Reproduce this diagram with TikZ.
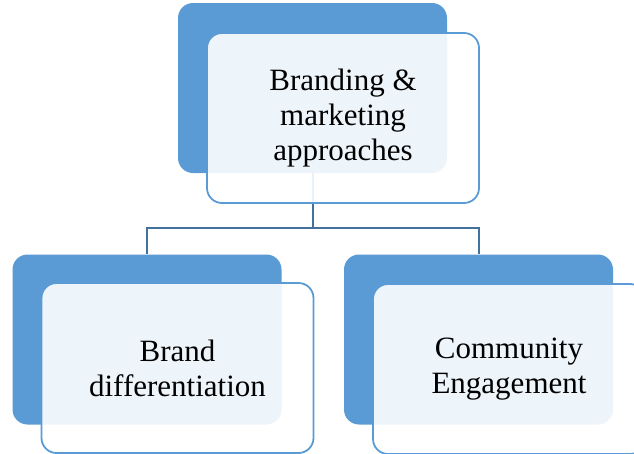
\documentclass[tikz,border=0pt]{standalone}
\usepackage{fontspec}
\setmainfont{Liberation Serif}
\usepackage{tikz}
\usetikzlibrary{positioning}

\definecolor{blockblue}{HTML}{5B9BD5}
\definecolor{linkblue}{HTML}{41719C}

\begin{document}
\begin{tikzpicture}
		[x=1pt,y=-1pt,
		back/.style={rectangle,rounded corners=15pt,fill=blockblue,inner sep=0pt,
			minimum width=269pt,minimum height=170pt},
		front/.style={rectangle,rounded corners=15pt,draw=blockblue,line width=1.8pt,
			fill=white,fill opacity=.9,text opacity=1,inner sep=0pt,
			minimum width=272pt,minimum height=170pt,align=center,
			font=\fontsize{31}{35}\selectfont},
		link/.style={draw=linkblue,line width=2pt}]
		\useasboundingbox (0,0) rectangle (634,453);
		\node[back] (b1) at (312.5,88) {};
		\node[back] (b2) at (147,339.5) {};
		\node[back] (b3) at (478.5,339.5) {};
		
		\coordinate (split) at (312.5,228);
		\draw[link] (b1.south) -- (split);
		\foreach \to in {b2, b3}
		\draw[link] (split) -| (\to.north);
		
		\node[front] (f1) at (343,118) {Branding \&\\marketing\\approaches};
		\node[front] (f2) at (177.5,368) {Brand\\differentiation};
		\node[front] (f3) at (509,369) {Community\\Engagement};
\end{tikzpicture}
\end{document}
